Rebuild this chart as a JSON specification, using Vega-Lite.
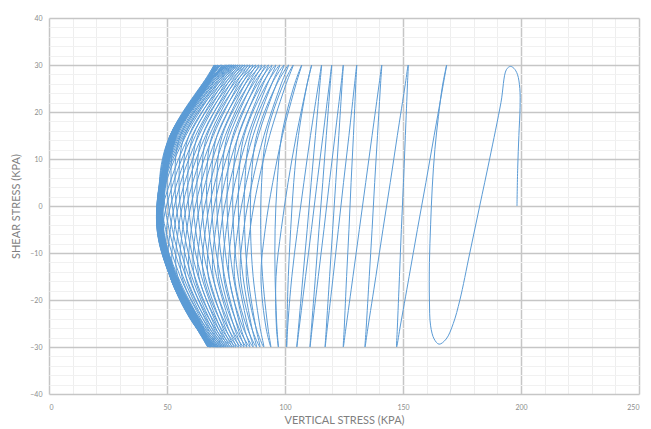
{
"$schema": "https://vega.github.io/schema/vega-lite/v6.json",
"width": 590, "height": 376,
"autosize": "none",
"padding": {"left": 49, "top": 18, "right": 12, "bottom": 35},
"config": {"view": {"stroke": null}, "font": "Lato"},
"data": {"values": [
{"x":198.3,"y":0},{"x":198.6,"y":8},{"x":199.1,"y":15},{"x":199.6,"y":21},{"x":199.5,"y":25},{"x":198.5,"y":28},{"x":197,"y":29.3},{"x":195.5,"y":29.7},
{"x":193.8,"y":29},{"x":191.5,"y":22},{"x":186.7,"y":10},{"x":182.5,"y":0},{"x":178.3,"y":-10},{"x":174.1,"y":-20},{"x":171.3,"y":-25},{"x":168.3,"y":-28.3},{"x":165.3,"y":-29.4},
{"x":163.2,"y":-28.3},{"x":161.7,"y":-25.5},{"x":161.2,"y":-20},{"x":161.2,"y":-12},{"x":161.7,"y":-4},{"x":162.4,"y":4},{"x":163.5,"y":12},{"x":165,"y":19},{"x":166.7,"y":25.5},{"x":168.5,"y":30},
{"x":167.1,"y":26},{"x":163.2,"y":15},{"x":159.7,"y":5},{"x":156.1,"y":-5},{"x":152.6,"y":-15},{"x":148.7,"y":-26},{"x":147.3,"y":-30},
{"x":147.6,"y":-26},{"x":148.5,"y":-15},{"x":149.3,"y":-5},{"x":150.2,"y":5},{"x":151.0,"y":15},{"x":151.9,"y":26},{"x":152.2,"y":30},
{"x":151.0,"y":26},{"x":147.6,"y":15},{"x":144.6,"y":5},{"x":141.5,"y":-5},{"x":138.5,"y":-15},{"x":135.1,"y":-26},{"x":133.9,"y":-30},
{"x":134.4,"y":-26},{"x":135.7,"y":-15},{"x":136.9,"y":-5},{"x":138.0,"y":5},{"x":139.2,"y":15},{"x":140.5,"y":26},{"x":141.0,"y":30},
{"x":139.9,"y":26},{"x":136.9,"y":15},{"x":134.2,"y":5},{"x":131.5,"y":-5},{"x":128.8,"y":-15},{"x":125.8,"y":-26},{"x":124.7,"y":-30},
{"x":125.1,"y":-26},{"x":126.1,"y":-15},{"x":127.1,"y":-5},{"x":128.0,"y":5},{"x":129.0,"y":15},{"x":130.0,"y":26},{"x":130.4,"y":30},
{"x":129.5,"y":26},{"x":127.1,"y":15},{"x":124.8,"y":5},{"x":122.6,"y":-5},{"x":120.4,"y":-15},{"x":117.9,"y":-26},{"x":117.0,"y":-30},
{"x":117.5,"y":-26},{"x":118.9,"y":-15},{"x":120.2,"y":-5},{"x":121.5,"y":5},{"x":122.8,"y":15},{"x":124.2,"y":26},{"x":124.7,"y":30},
{"x":123.8,"y":26},{"x":121.2,"y":15},{"x":118.8,"y":5},{"x":116.5,"y":-5},{"x":114.1,"y":-15},{"x":111.5,"y":-26},{"x":110.6,"y":-30},
{"x":111.2,"y":-26},{"x":112.9,"y":-15},{"x":114.4,"y":-5},{"x":116.0,"y":5},{"x":117.5,"y":15},{"x":119.2,"y":26},{"x":119.8,"y":30},
{"x":118.8,"y":26},{"x":116.1,"y":15},{"x":113.6,"y":5},{"x":111.2,"y":-5},{"x":108.7,"y":-15},{"x":106.0,"y":-26},{"x":105.0,"y":-30},
{"x":105.7,"y":-26},{"x":107.6,"y":-15},{"x":109.4,"y":-5},{"x":111.1,"y":5},{"x":112.9,"y":15},{"x":114.8,"y":26},{"x":115.5,"y":30},
{"x":114.2,"y":26},{"x":110.8,"y":15},{"x":108.0,"y":5},{"x":105.3,"y":-5},{"x":102.9,"y":-15},{"x":101.1,"y":-26},{"x":100.7,"y":-30},
{"x":100.8,"y":-26},{"x":101.4,"y":-15},{"x":102.4,"y":-5},{"x":103.7,"y":5},{"x":105.7,"y":15},{"x":109.4,"y":26},{"x":111.3,"y":30},
{"x":109.4,"y":26},{"x":104.8,"y":15},{"x":101.3,"y":5},{"x":98.4,"y":-5},{"x":96.2,"y":-15},{"x":96.4,"y":-26},{"x":97.2,"y":-30},
{"x":96.6,"y":-26},{"x":95.8,"y":-15},{"x":95.8,"y":-5},{"x":96.7,"y":5},{"x":98.6,"y":15},{"x":104.1,"y":26},{"x":107.1,"y":30},
{"x":104.7,"y":26},{"x":98.9,"y":15},{"x":94.8,"y":5},{"x":91.6,"y":-5},{"x":89.8,"y":-15},{"x":92.0,"y":-26},{"x":94.0,"y":-30},
{"x":92.8,"y":-26},{"x":90.5,"y":-15},{"x":89.7,"y":-5},{"x":90.1,"y":5},{"x":92.1,"y":15},{"x":99.4,"y":26},{"x":103.5,"y":30},
{"x":100.5,"y":26},{"x":93.5,"y":15},{"x":88.7,"y":5},{"x":85.2,"y":-5},{"x":83.6,"y":-15},{"x":87.8,"y":-26},{"x":91.0,"y":-30},
{"x":89.5,"y":-26},{"x":86.5,"y":-15},{"x":85.4,"y":-5},{"x":85.7,"y":5},{"x":88.0,"y":15},{"x":96.6,"y":26},{"x":101.5,"y":30},
{"x":98.4,"y":26},{"x":91.1,"y":15},{"x":86.1,"y":5},{"x":82.5,"y":-5},{"x":81.1,"y":-15},{"x":85.9,"y":-26},{"x":89.4,"y":-30},
{"x":87.7,"y":-26},{"x":84.3,"y":-15},{"x":82.9,"y":-5},{"x":83.0,"y":5},{"x":85.3,"y":15},{"x":94.4,"y":26},{"x":99.6,"y":30},
{"x":96.4,"y":26},{"x":88.7,"y":15},{"x":83.6,"y":5},{"x":80.0,"y":-5},{"x":78.6,"y":-15},{"x":84.0,"y":-26},{"x":87.9,"y":-30},
{"x":86.0,"y":-26},{"x":82.2,"y":-15},{"x":80.5,"y":-5},{"x":80.4,"y":5},{"x":82.7,"y":15},{"x":92.3,"y":26},{"x":97.8,"y":30},
{"x":94.4,"y":26},{"x":86.5,"y":15},{"x":81.2,"y":5},{"x":77.5,"y":-5},{"x":76.3,"y":-15},{"x":82.3,"y":-26},{"x":86.5,"y":-30},
{"x":84.4,"y":-26},{"x":80.1,"y":-15},{"x":78.2,"y":-5},{"x":78.0,"y":5},{"x":80.2,"y":15},{"x":90.3,"y":26},{"x":96.1,"y":30},
{"x":92.6,"y":26},{"x":84.3,"y":15},{"x":78.8,"y":5},{"x":75.1,"y":-5},{"x":74.0,"y":-15},{"x":80.5,"y":-26},{"x":85.1,"y":-30},
{"x":82.8,"y":-26},{"x":78.1,"y":-15},{"x":75.9,"y":-5},{"x":75.6,"y":5},{"x":77.9,"y":15},{"x":88.4,"y":26},{"x":94.5,"y":30},
{"x":90.8,"y":26},{"x":82.2,"y":15},{"x":76.6,"y":5},{"x":72.8,"y":-5},{"x":71.8,"y":-15},{"x":78.9,"y":-26},{"x":83.8,"y":-30},
{"x":81.3,"y":-26},{"x":76.2,"y":-15},{"x":73.8,"y":-5},{"x":73.3,"y":5},{"x":75.6,"y":15},{"x":86.6,"y":26},{"x":93.0,"y":30},
{"x":89.2,"y":26},{"x":80.3,"y":15},{"x":74.4,"y":5},{"x":70.6,"y":-5},{"x":69.6,"y":-15},{"x":77.3,"y":-26},{"x":82.6,"y":-30},
{"x":80.0,"y":-26},{"x":74.4,"y":-15},{"x":71.7,"y":-5},{"x":71.1,"y":5},{"x":73.4,"y":15},{"x":84.9,"y":26},{"x":91.6,"y":30},
{"x":87.6,"y":26},{"x":78.4,"y":15},{"x":72.3,"y":5},{"x":68.4,"y":-5},{"x":67.5,"y":-15},{"x":75.8,"y":-26},{"x":81.4,"y":-30},
{"x":78.6,"y":-26},{"x":72.7,"y":-15},{"x":69.6,"y":-5},{"x":68.9,"y":5},{"x":71.2,"y":15},{"x":83.2,"y":26},{"x":90.2,"y":30},
{"x":86.0,"y":26},{"x":76.5,"y":15},{"x":70.3,"y":5},{"x":66.3,"y":-5},{"x":65.5,"y":-15},{"x":74.3,"y":-26},{"x":80.3,"y":-30},
{"x":77.3,"y":-26},{"x":71.0,"y":-15},{"x":67.7,"y":-5},{"x":66.8,"y":5},{"x":69.1,"y":15},{"x":81.5,"y":26},{"x":88.9,"y":30},
{"x":84.6,"y":26},{"x":74.7,"y":15},{"x":68.3,"y":5},{"x":64.3,"y":-5},{"x":63.5,"y":-15},{"x":72.9,"y":-26},{"x":79.2,"y":-30},
{"x":76.0,"y":-26},{"x":69.3,"y":-15},{"x":65.7,"y":-5},{"x":64.7,"y":5},{"x":67.0,"y":15},{"x":79.9,"y":26},{"x":87.6,"y":30},
{"x":83.1,"y":26},{"x":72.9,"y":15},{"x":66.3,"y":5},{"x":62.2,"y":-5},{"x":61.6,"y":-15},{"x":71.6,"y":-26},{"x":78.2,"y":-30},
{"x":74.8,"y":-26},{"x":67.7,"y":-15},{"x":63.9,"y":-5},{"x":62.7,"y":5},{"x":65.0,"y":15},{"x":78.4,"y":26},{"x":86.4,"y":30},
{"x":81.8,"y":26},{"x":71.3,"y":15},{"x":64.5,"y":5},{"x":60.3,"y":-5},{"x":59.8,"y":-15},{"x":70.3,"y":-26},{"x":77.3,"y":-30},
{"x":73.7,"y":-26},{"x":66.1,"y":-15},{"x":62.1,"y":-5},{"x":60.7,"y":5},{"x":63.0,"y":15},{"x":76.9,"y":26},{"x":85.2,"y":30},
{"x":80.4,"y":26},{"x":69.6,"y":15},{"x":62.6,"y":5},{"x":58.4,"y":-5},{"x":58.0,"y":-15},{"x":69.1,"y":-26},{"x":76.4,"y":-30},
{"x":72.6,"y":-26},{"x":64.6,"y":-15},{"x":60.3,"y":-5},{"x":58.8,"y":5},{"x":61.1,"y":15},{"x":75.5,"y":26},{"x":84.1,"y":30},
{"x":79.2,"y":26},{"x":68.0,"y":15},{"x":60.9,"y":5},{"x":56.6,"y":-5},{"x":56.3,"y":-15},{"x":67.9,"y":-26},{"x":75.6,"y":-30},
{"x":71.7,"y":-26},{"x":63.2,"y":-15},{"x":58.6,"y":-5},{"x":56.9,"y":5},{"x":59.3,"y":15},{"x":74.1,"y":26},{"x":83.0,"y":30},
{"x":77.9,"y":26},{"x":66.4,"y":15},{"x":59.1,"y":5},{"x":54.8,"y":-5},{"x":54.5,"y":-15},{"x":66.8,"y":-26},{"x":74.8,"y":-30},
{"x":70.7,"y":-26},{"x":61.8,"y":-15},{"x":57.0,"y":-5},{"x":55.1,"y":5},{"x":57.5,"y":15},{"x":72.8,"y":26},{"x":82.0,"y":30},
{"x":76.8,"y":26},{"x":65.0,"y":15},{"x":57.5,"y":5},{"x":53.1,"y":-5},{"x":52.9,"y":-15},{"x":65.7,"y":-26},{"x":74.1,"y":-30},
{"x":69.8,"y":-26},{"x":60.5,"y":-15},{"x":55.4,"y":-5},{"x":53.4,"y":5},{"x":55.7,"y":15},{"x":71.5,"y":26},{"x":81.0,"y":30},
{"x":75.6,"y":26},{"x":63.5,"y":15},{"x":55.8,"y":5},{"x":51.4,"y":-5},{"x":51.3,"y":-15},{"x":64.7,"y":-26},{"x":73.4,"y":-30},
{"x":68.9,"y":-26},{"x":59.2,"y":-15},{"x":53.8,"y":-5},{"x":51.7,"y":5},{"x":54.0,"y":15},{"x":70.3,"y":26},{"x":80.1,"y":30},
{"x":74.6,"y":26},{"x":62.1,"y":15},{"x":54.3,"y":5},{"x":49.8,"y":-5},{"x":51.3,"y":-15},{"x":63.7,"y":-26},{"x":72.8,"y":-30},
{"x":68.1,"y":-26},{"x":58.0,"y":-15},{"x":52.3,"y":-5},{"x":50.0,"y":5},{"x":52.3,"y":15},{"x":69.1,"y":26},{"x":79.2,"y":30},
{"x":73.5,"y":26},{"x":60.7,"y":15},{"x":52.7,"y":5},{"x":48.2,"y":-5},{"x":51.3,"y":-15},{"x":62.8,"y":-26},{"x":72.2,"y":-30},
{"x":67.3,"y":-26},{"x":56.8,"y":-15},{"x":50.9,"y":-5},{"x":48.4,"y":5},{"x":51.3,"y":15},{"x":68.0,"y":26},{"x":78.4,"y":30},
{"x":72.6,"y":26},{"x":59.4,"y":15},{"x":51.3,"y":5},{"x":46.6,"y":-5},{"x":51.3,"y":-15},{"x":62.5,"y":-26},{"x":71.6,"y":-30},
{"x":66.5,"y":-26},{"x":55.6,"y":-15},{"x":49.4,"y":-5},{"x":46.8,"y":5},{"x":51.3,"y":15},{"x":66.9,"y":26},{"x":77.6,"y":30},
{"x":71.6,"y":26},{"x":58.0,"y":15},{"x":49.6,"y":5},{"x":46.3,"y":-5},{"x":51.8,"y":-15},{"x":63.0,"y":-26},{"x":71.1,"y":-30},
{"x":65.9,"y":-26},{"x":54.6,"y":-15},{"x":48.2,"y":-5},{"x":47.8,"y":5},{"x":52.3,"y":15},{"x":66.0,"y":26},{"x":76.9,"y":30},
{"x":70.9,"y":26},{"x":57.3,"y":15},{"x":48.9,"y":5},{"x":46.0,"y":-5},{"x":51.5,"y":-15},{"x":62.7,"y":-26},{"x":70.6,"y":-30},
{"x":65.4,"y":-26},{"x":54.0,"y":-15},{"x":47.8,"y":-5},{"x":48.8,"y":5},{"x":53.3,"y":15},{"x":67.0,"y":26},{"x":76.2,"y":30},
{"x":70.2,"y":26},{"x":56.7,"y":15},{"x":48.4,"y":5},{"x":46.4,"y":-5},{"x":51.9,"y":-15},{"x":63.1,"y":-26},{"x":70.2,"y":-30},
{"x":65.0,"y":-26},{"x":53.5,"y":-15},{"x":47.3,"y":-5},{"x":48.3,"y":5},{"x":52.8,"y":15},{"x":66.5,"y":26},{"x":75.5,"y":30},
{"x":69.5,"y":26},{"x":56.1,"y":15},{"x":47.8,"y":5},{"x":45.8,"y":-5},{"x":51.3,"y":-15},{"x":62.5,"y":-26},{"x":69.8,"y":-30},
{"x":65.0,"y":-26},{"x":53.8,"y":-15},{"x":48.3,"y":-5},{"x":49.3,"y":5},{"x":53.8,"y":15},{"x":67.5,"y":26},{"x":74.9,"y":30},
{"x":68.9,"y":26},{"x":55.5,"y":15},{"x":47.6,"y":5},{"x":46.6,"y":-5},{"x":52.1,"y":-15},{"x":63.3,"y":-26},{"x":69.4,"y":-30},
{"x":64.3,"y":-26},{"x":53.1,"y":-15},{"x":47.6,"y":-5},{"x":48.6,"y":5},{"x":53.1,"y":15},{"x":66.8,"y":26},{"x":74.3,"y":30},
{"x":68.3,"y":26},{"x":55.0,"y":15},{"x":47.1,"y":5},{"x":46.1,"y":-5},{"x":51.6,"y":-15},{"x":62.8,"y":-26},{"x":69.1,"y":-30},
{"x":64.7,"y":-26},{"x":53.5,"y":-15},{"x":48.0,"y":-5},{"x":49.0,"y":5},{"x":53.5,"y":15},{"x":67.2,"y":26},{"x":73.7,"y":30},
{"x":67.8,"y":26},{"x":54.5,"y":15},{"x":48.0,"y":5},{"x":47.0,"y":-5},{"x":52.5,"y":-15},{"x":63.7,"y":-26},{"x":68.8,"y":-30},
{"x":63.5,"y":-26},{"x":51.9,"y":-15},{"x":46.3,"y":-5},{"x":47.3,"y":5},{"x":51.8,"y":15},{"x":65.5,"y":26},{"x":73.2,"y":30},
{"x":67.8,"y":26},{"x":54.1,"y":15},{"x":49.6,"y":5},{"x":48.6,"y":-5},{"x":54.1,"y":-15},{"x":65.3,"y":-26},{"x":68.5,"y":-30},
{"x":63.5,"y":-26},{"x":52.3,"y":-15},{"x":46.8,"y":-5},{"x":47.8,"y":5},{"x":52.3,"y":15},{"x":66.0,"y":26},{"x":72.7,"y":30},
{"x":66.8,"y":26},{"x":53.6,"y":15},{"x":47.0,"y":5},{"x":46.0,"y":-5},{"x":51.5,"y":-15},{"x":62.7,"y":-26},{"x":68.3,"y":-30},
{"x":64.1,"y":-26},{"x":52.9,"y":-15},{"x":47.4,"y":-5},{"x":48.4,"y":5},{"x":52.9,"y":15},{"x":66.6,"y":26},{"x":72.2,"y":30},
{"x":67.4,"y":26},{"x":53.7,"y":15},{"x":49.2,"y":5},{"x":48.2,"y":-5},{"x":53.7,"y":-15},{"x":64.9,"y":-26},{"x":68.1,"y":-30},
{"x":63.2,"y":-26},{"x":52.0,"y":-15},{"x":46.5,"y":-5},{"x":47.5,"y":5},{"x":52.0,"y":15},{"x":65.7,"y":26},{"x":71.8,"y":30},
{"x":66.3,"y":26},{"x":52.6,"y":15},{"x":48.1,"y":5},{"x":47.1,"y":-5},{"x":52.6,"y":-15},{"x":63.8,"y":-26},{"x":67.9,"y":-30},
{"x":62.5,"y":-26},{"x":51.3,"y":-15},{"x":45.8,"y":-5},{"x":46.8,"y":5},{"x":51.3,"y":15},{"x":65.0,"y":26},{"x":71.4,"y":30},
{"x":67.0,"y":26},{"x":53.3,"y":15},{"x":48.8,"y":5},{"x":47.8,"y":-5},{"x":53.3,"y":-15},{"x":64.5,"y":-26},{"x":67.7,"y":-30},
{"x":63.6,"y":-26},{"x":52.4,"y":-15},{"x":46.9,"y":-5},{"x":47.9,"y":5},{"x":52.4,"y":15},{"x":66.1,"y":26},{"x":71.0,"y":30},
{"x":65.5,"y":26},{"x":51.8,"y":15},{"x":47.3,"y":5},{"x":46.3,"y":-5},{"x":51.8,"y":-15},{"x":63.0,"y":-26},{"x":67.6,"y":-30},
{"x":64.2,"y":-26},{"x":53.0,"y":-15},{"x":47.5,"y":-5},{"x":48.5,"y":5},{"x":53.0,"y":15},{"x":66.7,"y":26},{"x":70.7,"y":30},
{"x":65.9,"y":26},{"x":52.2,"y":15},{"x":47.7,"y":5},{"x":46.7,"y":-5},{"x":52.2,"y":-15},{"x":63.4,"y":-26},{"x":67.5,"y":-30},
{"x":65.1,"y":-26},{"x":53.9,"y":-15},{"x":48.4,"y":-5},{"x":49.4,"y":5},{"x":53.9,"y":15},{"x":67.6,"y":26},{"x":70.4,"y":30},
{"x":65.1,"y":26},{"x":51.4,"y":15},{"x":46.9,"y":5},{"x":45.9,"y":-5},{"x":51.4,"y":-15},{"x":62.6,"y":-26},{"x":67.4,"y":-30},
{"x":63.9,"y":-26},{"x":52.7,"y":-15},{"x":47.2,"y":-5},{"x":48.2,"y":5},{"x":52.7,"y":15},{"x":66.4,"y":26},{"x":70.1,"y":30},
{"x":67.1,"y":26},{"x":53.4,"y":15},{"x":48.9,"y":5},{"x":47.9,"y":-5},{"x":53.4,"y":-15},{"x":64.6,"y":-26},{"x":67.3,"y":-30},
{"x":63.1,"y":-26},{"x":51.9,"y":-15},{"x":46.4,"y":-5},{"x":47.4,"y":5},{"x":51.9,"y":15},{"x":65.6,"y":26},{"x":69.9,"y":30}
]},
"layer": [
{
"mark": {"type": "point", "opacity": 0},
"encoding": {
"x": {"field": "x", "type": "quantitative", "scale": {"domain": [0, 250], "nice": false, "zero": false},
"axis": {"orient": "bottom", "values": [10,20,30,40,60,70,80,90,110,120,130,140,160,170,180,190,210,220,230,240], "labels": false, "ticks": false, "domain": false, "grid": true, "gridColor": "#eeeeee", "gridWidth": 1, "title": null}},
"y": {"field": "y", "type": "quantitative", "scale": {"domain": [-40, 40], "nice": false, "zero": false},
"axis": {"orient": "left", "values": [-38,-36,-34,-32,-28,-26,-24,-22,-18,-16,-14,-12,-8,-6,-4,-2,2,4,6,8,12,14,16,18,22,24,26,28,32,34,36,38], "labels": false, "ticks": false, "domain": false, "grid": true, "gridColor": "#f1f1f1", "gridWidth": 1, "title": null}}
}
},
{
"mark": {"type": "line", "interpolate": "catmull-rom", "color": "#5b9bd5", "strokeWidth": 1},
"encoding": {
"order": {"value": null},
"x": {"field": "x", "type": "quantitative", "scale": {"domain": [0, 250], "nice": false, "zero": false},
"axis": {"orient": "bottom", "values": [0,50,100,150,200,250], "ticks": false, "tickSize": 0, "domain": false, "grid": true, "gridColor": "#c6c6c6", "gridWidth": 1.5, "labelFontSize": 7, "labelColor": "#8c8c8c", "labelPadding": 9, "title": "VERTICAL STRESS (KPA)", "titleFontSize": 11, "titleFontWeight": "normal", "titleColor": "#7f7f7f", "titlePadding": 4}},
"y": {"field": "y", "type": "quantitative", "scale": {"domain": [-40, 40], "nice": false, "zero": false},
"axis": {"orient": "left", "values": [-40,-30,-20,-10,0,10,20,30,40], "ticks": false, "tickSize": 0, "domain": false, "grid": true, "gridColor": "#c6c6c6", "gridWidth": 1.5, "labelFontSize": 7, "labelColor": "#8c8c8c", "labelPadding": 7, "title": "SHEAR STRESS (KPA)", "titleFontSize": 11, "titleFontWeight": "normal", "titleColor": "#7f7f7f", "titlePadding": 8}}
}
}
],
"resolve": {"axis": {"x": "independent", "y": "independent"}}
}
